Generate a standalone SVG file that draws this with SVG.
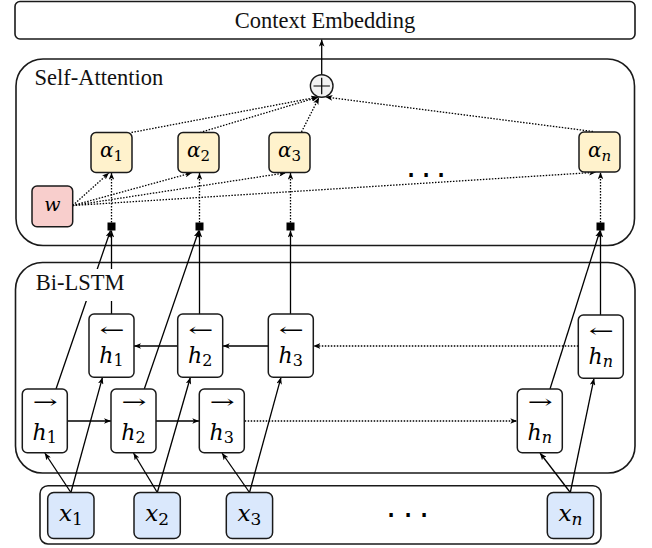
<svg xmlns="http://www.w3.org/2000/svg" width="652" height="548" viewBox="0 0 652 548">
<defs>
<style>
.box{fill:#fff;stroke:#1a1a1a;stroke-width:1.6}
.nd{stroke:#1a1a1a;stroke-width:1.5}
.al{fill:#fff2cc}
.xi{fill:#dae8fc}
.wn{fill:#f8cecc}
.hh{fill:#fff}
.lbl{font-family:"Liberation Serif",serif;font-size:22.5px;fill:#111}
.m{font-family:"DejaVu Serif",serif;font-style:italic;fill:#000}
.sub{font-style:normal}
.ar{font-family:"DejaVu Serif",serif;font-size:18px;fill:#000}
.c{stroke:#000;stroke-width:1.3;fill:none}
.d{stroke-dasharray:1.5 1.5}
.dots{font-family:"DejaVu Sans",sans-serif;font-size:32px;fill:#000}
</style>
<marker id="ah" viewBox="0 0 10 8" refX="10" refY="4" markerWidth="7" markerHeight="5.6" markerUnits="userSpaceOnUse" orient="auto"><path d="M0,0 L10,4 L0,8 L2.5,4 z" fill="#000"/></marker>
</defs>
<rect width="652" height="548" fill="#fff"/>

<g id="context">
<rect class="box" x="15" y="1.5" width="620" height="37.5" rx="5"/>
<text class="lbl" x="325" y="27.5" text-anchor="middle">Context Embedding</text>
</g>
<g id="self-attention">
<rect class="box" x="16" y="59" width="618.5" height="186.5" rx="27"/>
<text class="lbl" x="34.5" y="85">Self-Attention</text>
</g>
<g id="bilstm">
<rect class="box" x="15.5" y="262.5" width="619.5" height="210.5" rx="27"/>
</g>
<g id="inputs">
<rect class="box" x="40" y="485.7" width="561" height="58.3" rx="8"/>
</g>

<g id="connectors">
<line class="c" x1="321.7" y1="74" x2="321.7" y2="39.5" marker-end="url(#ah)"/>
<line class="c d" x1="131.5" y1="132.5" x2="318" y2="97" marker-end="url(#ah)"/>
<line class="c d" x1="200" y1="132.5" x2="318.5" y2="97" marker-end="url(#ah)"/>
<line class="c d" x1="301.5" y1="132" x2="319" y2="97.5" marker-end="url(#ah)"/>
<line class="c d" x1="593" y1="131.5" x2="325.5" y2="97" marker-end="url(#ah)"/>
<line class="c d" x1="72.7" y1="205.5" x2="109" y2="172.8" marker-end="url(#ah)"/>
<line class="c d" x1="72.7" y1="205.5" x2="192" y2="172.8" marker-end="url(#ah)"/>
<line class="c d" x1="72.7" y1="205.5" x2="286" y2="172.8" marker-end="url(#ah)"/>
<line class="c d" x1="72.7" y1="205.5" x2="596" y2="172.3" marker-end="url(#ah)"/>
<line class="c d" x1="111.5" y1="222.5" x2="111.5" y2="172.8" marker-end="url(#ah)"/>
<line class="c d" x1="199.5" y1="222.5" x2="199.5" y2="172.8" marker-end="url(#ah)"/>
<line class="c d" x1="290.5" y1="222.5" x2="290.5" y2="172.8" marker-end="url(#ah)"/>
<line class="c d" x1="600.5" y1="222.5" x2="600.5" y2="172.3" marker-end="url(#ah)"/>
<line class="c" x1="111.5" y1="314" x2="111.5" y2="230.5" marker-end="url(#ah)"/>
<line class="c" x1="199.5" y1="314" x2="199.5" y2="230.5" marker-end="url(#ah)"/>
<line class="c" x1="290.5" y1="314" x2="290.5" y2="230.5" marker-end="url(#ah)"/>
<line class="c" x1="600.5" y1="315" x2="600.5" y2="230.5" marker-end="url(#ah)"/>
<line class="c" x1="56" y1="389" x2="110.5" y2="230.5" marker-end="url(#ah)"/>
<line class="c" x1="144.3" y1="389" x2="198.8" y2="230.5" marker-end="url(#ah)"/>
<line class="c" x1="550" y1="389" x2="600" y2="230.5" marker-end="url(#ah)"/>
<line class="c" x1="268.3" y1="346" x2="222.7" y2="346" marker-end="url(#ah)"/>
<line class="c" x1="177.7" y1="346" x2="134" y2="346" marker-end="url(#ah)"/>
<line class="c d" x1="578.3" y1="346" x2="313.3" y2="346" marker-end="url(#ah)"/>
<line class="c" x1="67.3" y1="421" x2="111" y2="421" marker-end="url(#ah)"/>
<line class="c" x1="156" y1="421" x2="199.3" y2="421" marker-end="url(#ah)"/>
<line class="c d" x1="244.7" y1="421" x2="517.3" y2="421" marker-end="url(#ah)"/>
<line class="c" x1="70.9" y1="492.5" x2="44.8" y2="453" marker-end="url(#ah)"/>
<line class="c" x1="70.9" y1="492.5" x2="102.5" y2="377.3" marker-end="url(#ah)"/>
<line class="c" x1="157.3" y1="492.5" x2="133.5" y2="453" marker-end="url(#ah)"/>
<line class="c" x1="157.3" y1="492.5" x2="190.4" y2="377.3" marker-end="url(#ah)"/>
<line class="c" x1="249.5" y1="492.5" x2="222" y2="453" marker-end="url(#ah)"/>
<line class="c" x1="249.5" y1="492.5" x2="281" y2="377.3" marker-end="url(#ah)"/>
<line class="c" x1="570.3" y1="492.5" x2="540" y2="453" marker-end="url(#ah)"/>
<line class="c" x1="570.3" y1="492.5" x2="594" y2="378.3" marker-end="url(#ah)"/>
</g>

<g id="bilstm-label">
<rect x="33" y="269" width="95" height="32" fill="#fff"/>
<text class="lbl" x="35.7" y="290">Bi-LSTM</text>
</g>

<g id="sum">
<circle cx="321.7" cy="86" r="11.3" fill="#f2f2f2" stroke="#1a1a1a" stroke-width="1.4"/>
<path d="M313.5,86 H329.9 M321.7,77.8 V94.2" stroke="#000" stroke-width="1.2"/>
</g>

<g id="sq1"><rect x="107.5" y="222.5" width="8" height="8" fill="#000"/></g>
<g id="sq2"><rect x="195.5" y="222.5" width="8" height="8" fill="#000"/></g>
<g id="sq3"><rect x="286.5" y="222.5" width="8" height="8" fill="#000"/></g>
<g id="sqn"><rect x="596.5" y="222.5" width="8" height="8" fill="#000"/></g>

<g id="w"><rect class="nd wn" x="32" y="186" width="40.7" height="40.7" rx="5"/>
<text class="m" x="52.3" y="211" font-size="19" text-anchor="middle">w</text></g>

<g id="alpha1"><rect class="nd al" x="91" y="132.5" width="41" height="40" rx="5"/>
<text class="m" x="111.5" y="157" font-size="20" text-anchor="middle">α<tspan class="sub" font-size="15" dy="4">1</tspan></text></g>
<g id="alpha2"><rect class="nd al" x="178" y="132.5" width="41" height="40" rx="5"/>
<text class="m" x="198.5" y="157" font-size="20" text-anchor="middle">α<tspan class="sub" font-size="15" dy="4">2</tspan></text></g>
<g id="alpha3"><rect class="nd al" x="269" y="132.5" width="41" height="40" rx="5"/>
<text class="m" x="289.5" y="157" font-size="20" text-anchor="middle">α<tspan class="sub" font-size="15" dy="4">3</tspan></text></g>
<g id="alphan"><rect class="nd al" x="579" y="132" width="41" height="40" rx="5"/>
<text class="m" x="599.5" y="156.5" font-size="20" text-anchor="middle">α<tspan font-size="15" dy="4">n</tspan></text></g>
<text class="dots" x="411 426 441" y="186" text-anchor="middle">···</text>

<g id="hb1"><rect class="nd hh" x="89" y="314" width="45" height="63.3" rx="5"/>
<text class="ar" x="112" y="336" text-anchor="middle" textLength="25" lengthAdjust="spacingAndGlyphs">←</text>
<text class="m" x="111.5" y="363" font-size="22" text-anchor="middle">h<tspan class="sub" font-size="16" dy="3">1</tspan></text></g>
<g id="hb2"><rect class="nd hh" x="177.7" y="314" width="45" height="63.3" rx="5"/>
<text class="ar" x="200.7" y="336" text-anchor="middle" textLength="25" lengthAdjust="spacingAndGlyphs">←</text>
<text class="m" x="200.2" y="363" font-size="22" text-anchor="middle">h<tspan class="sub" font-size="16" dy="3">2</tspan></text></g>
<g id="hb3"><rect class="nd hh" x="268.3" y="314" width="45" height="63.3" rx="5"/>
<text class="ar" x="291.3" y="336" text-anchor="middle" textLength="25" lengthAdjust="spacingAndGlyphs">←</text>
<text class="m" x="290.8" y="363" font-size="22" text-anchor="middle">h<tspan class="sub" font-size="16" dy="3">3</tspan></text></g>
<g id="hbn"><rect class="nd hh" x="578.3" y="315" width="45" height="63.3" rx="5"/>
<text class="ar" x="601.3" y="337" text-anchor="middle" textLength="25" lengthAdjust="spacingAndGlyphs">←</text>
<text class="m" x="600.8" y="364" font-size="22" text-anchor="middle">h<tspan font-size="16" dy="3">n</tspan></text></g>

<g id="hf1"><rect class="nd hh" x="22.3" y="389" width="45" height="63.7" rx="5"/>
<text class="ar" x="45.3" y="408" text-anchor="middle" textLength="25" lengthAdjust="spacingAndGlyphs">→</text>
<text class="m" x="44.8" y="439.5" font-size="22" text-anchor="middle">h<tspan class="sub" font-size="16" dy="3">1</tspan></text></g>
<g id="hf2"><rect class="nd hh" x="111" y="389" width="45" height="63.7" rx="5"/>
<text class="ar" x="134" y="408" text-anchor="middle" textLength="25" lengthAdjust="spacingAndGlyphs">→</text>
<text class="m" x="133.5" y="439.5" font-size="22" text-anchor="middle">h<tspan class="sub" font-size="16" dy="3">2</tspan></text></g>
<g id="hf3"><rect class="nd hh" x="199.3" y="389" width="45" height="63.7" rx="5"/>
<text class="ar" x="222.3" y="408" text-anchor="middle" textLength="25" lengthAdjust="spacingAndGlyphs">→</text>
<text class="m" x="221.8" y="439.5" font-size="22" text-anchor="middle">h<tspan class="sub" font-size="16" dy="3">3</tspan></text></g>
<g id="hfn"><rect class="nd hh" x="517.3" y="389" width="45" height="63.7" rx="5"/>
<text class="ar" x="540.3" y="408" text-anchor="middle" textLength="25" lengthAdjust="spacingAndGlyphs">→</text>
<text class="m" x="539.8" y="439.5" font-size="22" text-anchor="middle">h<tspan font-size="16" dy="3">n</tspan></text></g>

<g id="x1"><rect class="nd xi" x="47.7" y="492.5" width="46.3" height="46" rx="6"/>
<text class="m" x="70.9" y="521" font-size="23" text-anchor="middle">x<tspan class="sub" font-size="17" dy="4">1</tspan></text></g>
<g id="x2"><rect class="nd xi" x="134" y="492.5" width="46.3" height="46" rx="6"/>
<text class="m" x="157.2" y="521" font-size="23" text-anchor="middle">x<tspan class="sub" font-size="17" dy="4">2</tspan></text></g>
<g id="x3"><rect class="nd xi" x="226.3" y="492.5" width="46.3" height="46" rx="6"/>
<text class="m" x="249.5" y="521" font-size="23" text-anchor="middle">x<tspan class="sub" font-size="17" dy="4">3</tspan></text></g>
<g id="xn"><rect class="nd xi" x="547.3" y="492.5" width="46.3" height="46" rx="6"/>
<text class="m" x="570.4" y="521" font-size="23" text-anchor="middle">x<tspan font-size="17" dy="4">n</tspan></text></g>
<text class="dots" x="391 408 424" y="526" text-anchor="middle">···</text>
</svg>
